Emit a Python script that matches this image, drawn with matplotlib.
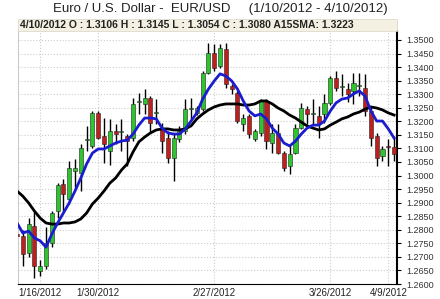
import matplotlib.pyplot as plt
import numpy as np
from matplotlib.patches import Rectangle

plt.rcParams['font.family'] = ['Liberation Sans', 'DejaVu Sans']

# daily EUR/USD candles, 1/10/2012 - 4/10/2012 (trading days)
opens = [1.2784, 1.2777, 1.2714, 1.2814, 1.2648, 1.2666, 1.2751, 1.2869, 1.2969, 1.2913,
         1.3017, 1.3009, 1.3131, 1.3109, 1.3231, 1.3146, 1.3091, 1.3164, 1.3161, 1.3146,
         1.3138, 1.3271, 1.3264, 1.3286, 1.3231, 1.3175, 1.3138, 1.3065, 1.3135, 1.3164,
         1.3245, 1.3231, 1.3245, 1.3378, 1.3452, 1.3404, 1.3467, 1.3330, 1.3304, 1.3190,
         1.3220, 1.3135, 1.3157, 1.3275, 1.3120, 1.3157, 1.3083, 1.3035, 1.3083, 1.3175,
         1.3245, 1.3227, 1.3220, 1.3227, 1.3268, 1.3360, 1.3327, 1.3319, 1.3312, 1.3330,
         1.3323, 1.3238, 1.3146, 1.3072, 1.3109, 1.3106]
highs = [1.2795, 1.2799, 1.2843, 1.2869, 1.2688, 1.2810, 1.2869, 1.2972, 1.2987, 1.3054,
         1.3061, 1.3116, 1.3183, 1.3238, 1.3238, 1.3212, 1.3209, 1.3190, 1.3209, 1.3153,
         1.3286, 1.3304, 1.3319, 1.3293, 1.3282, 1.3194, 1.3164, 1.3153, 1.3183, 1.3282,
         1.3286, 1.3257, 1.3386, 1.3489, 1.3485, 1.3485, 1.3489, 1.3338, 1.3312, 1.3227,
         1.3227, 1.3172, 1.3282, 1.3282, 1.3190, 1.3190, 1.3091, 1.3116, 1.3190, 1.3268,
         1.3257, 1.3282, 1.3257, 1.3301, 1.3367, 1.3386, 1.3375, 1.3341, 1.3378, 1.3378,
         1.3375, 1.3257, 1.3157, 1.3109, 1.3135, 1.3145]
lows = [1.2766, 1.2666, 1.2699, 1.2622, 1.2629, 1.2655, 1.2736, 1.2843, 1.2869, 1.2895,
        1.2954, 1.2943, 1.3091, 1.3102, 1.3135, 1.3046, 1.3039, 1.3116, 1.3091, 1.3035,
        1.3127, 1.3227, 1.3227, 1.3157, 1.3190, 1.3083, 1.3046, 1.2980, 1.3124, 1.3153,
        1.3209, 1.3223, 1.3238, 1.3375, 1.3386, 1.3397, 1.3323, 1.3301, 1.3194, 1.3164,
        1.3138, 1.3127, 1.3146, 1.3098, 1.3083, 1.3079, 1.3017, 1.3006, 1.3079, 1.3172,
        1.3190, 1.3190, 1.3138, 1.3194, 1.3260, 1.3312, 1.3293, 1.3271, 1.3264, 1.3293,
        1.3220, 1.3109, 1.3035, 1.3054, 1.3035, 1.3054]
closes = [1.2777, 1.2711, 1.2821, 1.2666, 1.2666, 1.2751, 1.2862, 1.2965, 1.2932, 1.3028,
          1.3028, 1.3102, 1.3135, 1.3231, 1.3138, 1.3116, 1.3164, 1.3153, 1.3164, 1.3127,
          1.3264, 1.3275, 1.3286, 1.3194, 1.3234, 1.3127, 1.3065, 1.3138, 1.3164, 1.3245,
          1.3249, 1.3249, 1.3378, 1.3452, 1.3397, 1.3470, 1.3338, 1.3319, 1.3201, 1.3212,
          1.3153, 1.3164, 1.3275, 1.3127, 1.3157, 1.3083, 1.3028, 1.3079, 1.3175, 1.3249,
          1.3227, 1.3231, 1.3190, 1.3268, 1.3360, 1.3323, 1.3330, 1.3301, 1.3341, 1.3334,
          1.3238, 1.3138, 1.3065, 1.3098, 1.3105, 1.3080]

# short moving average (blue) and 15-day SMA (black)
fast_ma = [1.2825, 1.2788, 1.2795, 1.2770, 1.2759, 1.2736, 1.2784, 1.2825, 1.2862, 1.2899,
           1.2943, 1.2991, 1.3043, 1.3083, 1.3098, 1.3098, 1.3109, 1.3120, 1.3127, 1.3131,
           1.3153, 1.3186, 1.3212, 1.3212, 1.3209, 1.3175, 1.3157, 1.3153, 1.3153, 1.3172,
           1.3201, 1.3231, 1.3282, 1.3319, 1.3349, 1.3375, 1.3367, 1.3349, 1.3319, 1.3275,
           1.3238, 1.3220, 1.3227, 1.3209, 1.3175, 1.3153, 1.3120, 1.3109, 1.3127, 1.3153,
           1.3175, 1.3186, 1.3186, 1.3201, 1.3238, 1.3268, 1.3282, 1.3286, 1.3301, 1.3312,
           1.3293, 1.3238, 1.3201, 1.3201, 1.3172, 1.3138]
sma15 = [1.2943, 1.2924, 1.2899, 1.2869, 1.2843, 1.2825, 1.2821, 1.2821, 1.2825, 1.2825,
         1.2829, 1.2840, 1.2862, 1.2895, 1.2917, 1.2943, 1.2972, 1.2991, 1.3020, 1.3043,
         1.3087, 1.3124, 1.3142, 1.3157, 1.3168, 1.3172, 1.3172, 1.3168, 1.3168, 1.3172,
         1.3183, 1.3209, 1.3227, 1.3242, 1.3253, 1.3260, 1.3264, 1.3264, 1.3264, 1.3260,
         1.3260, 1.3264, 1.3275, 1.3275, 1.3264, 1.3249, 1.3238, 1.3223, 1.3212, 1.3197,
         1.3183, 1.3175, 1.3168, 1.3172, 1.3186, 1.3197, 1.3209, 1.3216, 1.3227, 1.3234,
         1.3245, 1.3253, 1.3249, 1.3242, 1.3231, 1.3223]

tick_idx = [4, 14, 34, 54, 64]
tick_labels = ['1/16/2012', '1/30/2012', '2/27/2012', '3/26/2012', '4/9/2012']

o = np.array(opens); h = np.array(highs); l = np.array(lows); c = np.array(closes)
x = np.arange(len(o))

fig = plt.figure(figsize=(4.4, 2.99), dpi=100)
ax = fig.add_axes([18/440, 1-284/299, 379/440, 253/299])

ax.grid(True, color='#cccccc', linestyle=':', linewidth=0.8)
ax.set_axisbelow(True)

ax.vlines(x, l, h, color='black', linewidth=1, zorder=2)
up = c >= o
body_bot = np.minimum(o, c)
body_h = np.maximum(np.abs(c - o), 0.0003)
ax.bar(x, body_h, bottom=body_bot, width=0.7,
       color=np.where(up, '#2ec42e', '#c0201c'), edgecolor='#222222', linewidth=0.4, zorder=3)

ax.plot(x, sma15, color='black', linewidth=2, zorder=4)
ax.plot(x, fast_ma, color='#1c1ccf', linewidth=2, zorder=5)

ax.set_xlim(0.17, 65.5)
ax.set_ylim(1.26, 1.3533)
ax.set_yticks(np.arange(1.26, 1.3501, 0.005))
ax.yaxis.set_major_formatter(plt.FormatStrFormatter('%.4f'))
ax.yaxis.tick_right()
ax.tick_params(axis='y', labelsize=6.5, length=3, pad=4, labelcolor='#333333')
ax.set_xticks(tick_idx)
ax.set_xticklabels(tick_labels)
ax.tick_params(axis='x', labelsize=7, length=0, pad=3, labelcolor='#222222')

ax.spines['top'].set_visible(False)
ax.spines['left'].set_color('#cccccc')
ax.spines['right'].set_color('black')
ax.spines['right'].set_linewidth(1.5)
ax.spines['bottom'].set_color('black')

fig.patches.append(Rectangle((18/440, 1-31/299), 379/440, 12/299, transform=fig.transFigure,
                             facecolor='#f4f0e2', edgecolor='#d8d4c8', linewidth=0.5))
fig.text(20/440, 1-25/299, '4/10/2012 O : 1.3106 H : 1.3145 L : 1.3054 C : 1.3080 A15SMA: 1.3223',
         fontsize=7.5, fontweight='bold', va='center', ha='left', color='#222222')
fig.text(0.5, 1-9/299, 'Euro / U.S. Dollar -  EUR/USD     (1/10/2012 - 4/10/2012)',
         fontsize=9.5, ha='center', va='center', color='#222222')

fig.savefig('out.png', dpi=100, facecolor='white')
